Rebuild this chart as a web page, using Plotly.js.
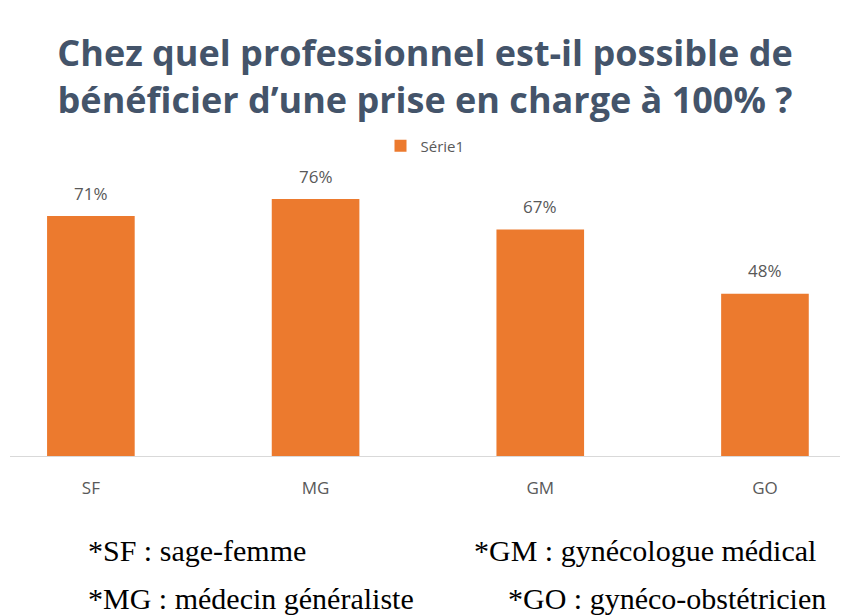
<!DOCTYPE html>
<html>
<head>
<meta charset="utf-8">
<script src="https://cdn.plot.ly/plotly-3.0.1.min.js"></script>
<style>html,body{margin:0;padding:0;background:#fff;}#chart{width:846px;height:616px;}</style>
</head>
<body>
<div id="chart"></div>
<script>
const categories = ["SF", "MG", "GM", "GO"];
const values = [71, 76, 67, 48];
const valueLabels = ["71%", "76%", "67%", "48%"];
const seriesName = "Série1";
const titleLines = ["Chez quel professionnel est-il possible de", "bénéficier d’une prise en charge à 100% ?"];
const footnoteTexts = ["*SF : sage-femme", "*GM : gynécologue médical", "*MG : médecin généraliste", "*GO : gynéco-obstétricien"];

// footnote placement (pixels)
const footLeft = [86, 472, 86, 506];
const footMid = [550, 550, 598, 598];

const W = 846, H = 616;
const M = {l: 10, r: 6, t: 170, b: 160};
const PW = W - M.l - M.r, PH = H - M.t - M.b;

const trace = {
  type: "bar",
  x: categories,
  y: values,
  name: seriesName,
  marker: {color: "#EC7A2E", line: {width: 0}},
  width: 0.39,
  hoverinfo: "none"
};

const labelAnns = categories.map((c, i) => ({
  x: c, y: values[i], xref: "x", yref: "y",
  text: valueLabels[i], showarrow: false,
  yanchor: "middle", xanchor: "center", yshift: 23,
  font: {family: "Open Sans, sans-serif", size: 17, color: "#595959"}
}));

const footAnns = footnoteTexts.map((t, i) => ({
  text: t, xref: "paper", yref: "paper",
  x: (footLeft[i] - M.l) / PW, y: (H - footMid[i] - M.b) / PH,
  xanchor: "left", yanchor: "middle", showarrow: false,
  font: {family: "Liberation Serif, Times New Roman, serif", size: 30, color: "#000000"}
}));

const layout = {
  width: W, height: H,
  paper_bgcolor: "#ffffff", plot_bgcolor: "#ffffff",
  margin: M,
  title: {
    text: titleLines.join("<br>"),
    font: {family: "Open Sans, sans-serif", size: 36, color: "#44546A", weight: "bold"},
    x: 0.5, xanchor: "center", xref: "paper",
    y: 1 - 66/616, yanchor: "middle", yref: "container"
  },
  showlegend: true,
  legend: {
    orientation: "h", x: 0.5, xanchor: "center", y: 1 + 24/PH, yanchor: "middle",
    font: {family: "Open Sans, sans-serif", size: 15, color: "#595959"},
    itemwidth: 30
  },
  xaxis: {
    type: "category",
    range: [-0.36, 3.334],
    showgrid: false, zeroline: false,
    showline: true, linecolor: "#D9D9D9", linewidth: 1,
    ticks: "", ticklabelstandoff: 17,
    tickfont: {family: "Open Sans, sans-serif", size: 17, color: "#595959"},
    fixedrange: true
  },
  yaxis: {
    range: [0, PH/3.38],
    showgrid: false, zeroline: false, showline: false,
    showticklabels: false, ticks: "",
    fixedrange: true
  },
  annotations: labelAnns.concat(footAnns)
};

Plotly.newPlot("chart", [trace], layout, {displayModeBar: false, staticPlot: true});
</script>
</body>
</html>
